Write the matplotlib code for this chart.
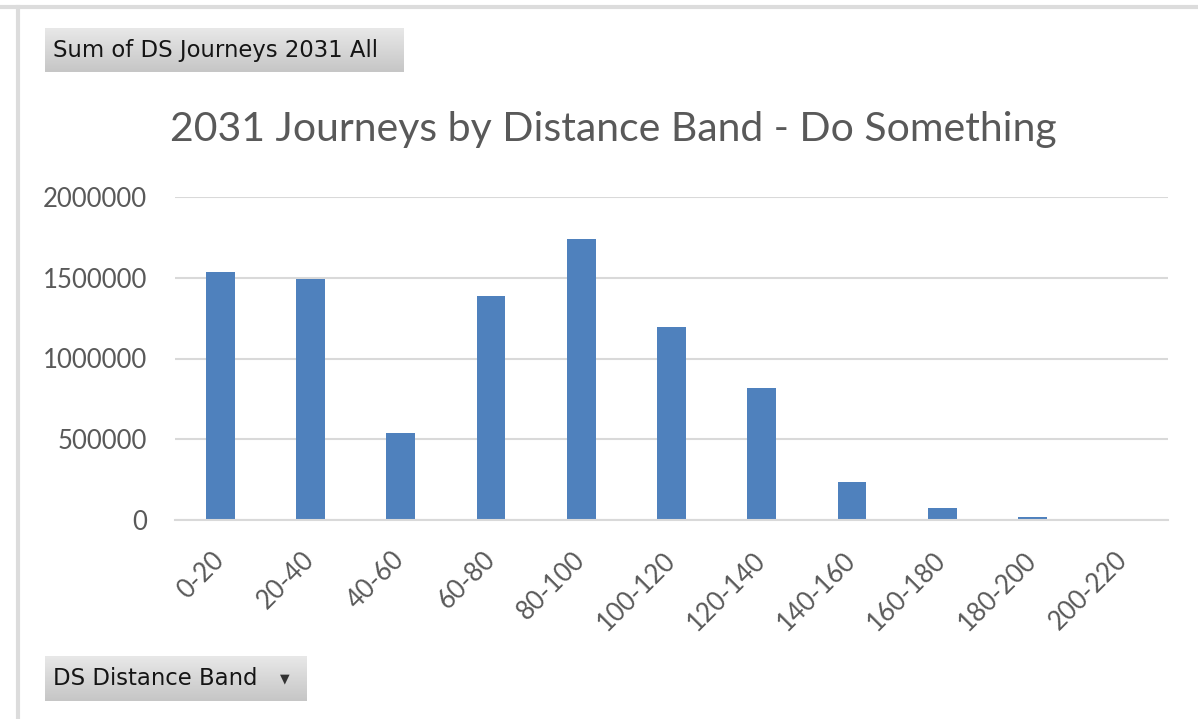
import matplotlib.pyplot as plt
from matplotlib.lines import Line2D
from matplotlib.colors import LinearSegmentedColormap
import numpy as np

bands = ['0-20', '20-40', '40-60', '60-80', '80-100', '100-120',
         '120-140', '140-160', '160-180', '180-200', '200-220']
journeys = [1537000, 1492000, 539000, 1387000, 1740000, 1195000,
            817000, 233000, 72000, 16000, 1000]
yticks = [0, 500000, 1000000, 1500000, 2000000]

plt.rcParams['font.family'] = ['Lato', 'DejaVu Sans']
grey_text = '#595959'

fig = plt.figure(figsize=(11.98, 7.19), dpi=100)
W, H = 1198, 719

# plot area: x 175..1168, y 197..520 (pixels from top)
ax = fig.add_axes([175 / W, 1 - 520 / H, (1168 - 175) / W, (520 - 197) / H])
x = np.arange(len(bands))
ax.bar(x, journeys, width=0.32, color='#4f81bd')
ax.set_xlim(-0.5, len(bands) - 0.5)
ax.set_ylim(0, 2000000)
ax.set_yticks(yticks)
ax.set_yticklabels([str(v) for v in yticks])
ax.set_xticks(x)
ax.set_xticklabels(bands, rotation=45, ha='right', va='center',
                   rotation_mode='anchor')
ax.tick_params(axis='both', length=0, labelsize=18.5, colors=grey_text)
ax.tick_params(axis='y', pad=20)
ax.tick_params(axis='x', pad=26)
ax.yaxis.grid(True, color='#d9d9d9', linewidth=1.5)
ax.set_axisbelow(True)
for s in ['top', 'right', 'left']:
    ax.spines[s].set_visible(False)
ax.spines['bottom'].set_color('#d9d9d9')
ax.spines['bottom'].set_linewidth(1.5)

fig.text(613 / W, 1 - 130 / H, '2031 Journeys by Distance Band - Do Something',
         ha='center', va='center', fontsize=29.5, color=grey_text)

# outer frame lines
fig.add_artist(Line2D([0, 1], [1 - 7 / H, 1 - 7 / H], color='#dcdcdc', lw=3,
                      transform=fig.transFigure))
fig.add_artist(Line2D([18 / W, 18 / W], [0, 1 - 7 / H], color='#dcdcdc', lw=3,
                      transform=fig.transFigure))

btn_cmap = LinearSegmentedColormap.from_list('btn', ['#e8e8e8', '#c6c6c6'])


def button(x0, y0, x1, y1, label, arrow=False):
    # grey gradient field button
    grad = np.linspace(0, 1, 50).reshape(-1, 1)
    bax = fig.add_axes([x0 / W, 1 - y1 / H, (x1 - x0) / W, (y1 - y0) / H])
    bax.imshow(grad, aspect='auto', cmap=btn_cmap, extent=[0, 1, 0, 1],
               origin='upper')
    bax.set_xlim(0, 1)
    bax.set_ylim(0, 1)
    bax.axis('off')
    bax.text(8 / (x1 - x0), 0.5, label, ha='left', va='center', fontsize=16.4,
             color='#151515', family=['DejaVu Sans'])
    if arrow:
        bax.text(1 - 22 / (x1 - x0), 0.5, '\u25BC', ha='center', va='center',
                 fontsize=9, color='#333333', family=['DejaVu Sans'])


button(45, 28, 403, 72, 'Sum of DS Journeys 2031 All')
button(45, 656, 307, 701, 'DS Distance Band', arrow=True)

fig.savefig('out.png', dpi=100, facecolor='white')
